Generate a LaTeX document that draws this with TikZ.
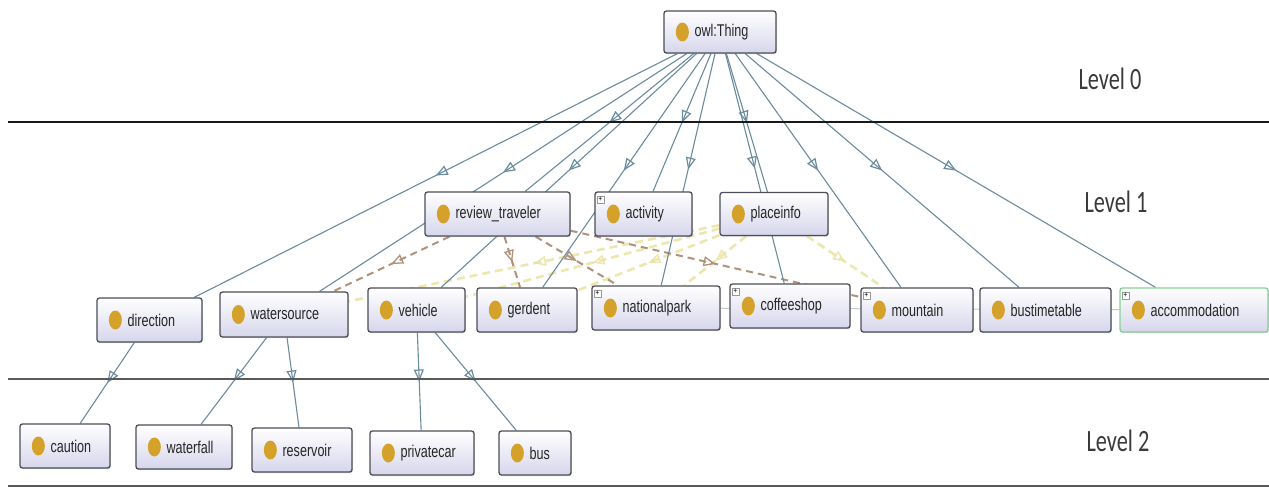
\documentclass[tikz,border=0pt]{standalone}
\usepackage{fontspec}
\newfontfamily\nodefont[FakeStretch=0.74]{Liberation Sans}
\newfontfamily\levelfont[FakeStretch=0.72]{Carlito}
\usetikzlibrary{arrows.meta,decorations.markings,shadows,backgrounds,shapes.geometric}
\definecolor{boxborder}{HTML}{4E4E58}
\definecolor{boxbottom}{HTML}{D6D6EC}
\definecolor{dotcol}{HTML}{D4A22A}
\definecolor{edgecol}{HTML}{6A8C9E}
\definecolor{browncol}{HTML}{B0917A}
\definecolor{yelcol}{HTML}{EAE3A2}
\definecolor{greenborder}{HTML}{86CF94}
\definecolor{levelcol}{HTML}{3A3A3A}
\newcommand\cls[7]{%
  \node[clsbox, minimum width=#4pt, minimum height=#5pt, #7] (#1) at (#2,#3) {};
  \node[dotn] (#1-d) at ([xshift=19pt]#1.west) {};
  \node[clstext] (#1-t) at ([xshift=31pt]#1.west) {#6};
}
\newcommand\plusmark[1]{%
  \node[plusn] (#1-p) at ([xshift=6pt,yshift=-8pt]#1.north west) {+};
}
\begin{document}
\begin{tikzpicture}[x=1pt,y=-1pt,
  clsbox/.style={draw=boxborder, line width=1.3pt, rounded corners=2.5pt,
    top color=white, bottom color=boxbottom, inner sep=0pt,
    drop shadow={shadow xshift=0.8pt, shadow yshift=-1.2pt, opacity=0.3}},
  dotn/.style={ellipse, fill=dotcol, minimum width=13pt, minimum height=19pt, inner sep=0pt},
  clstext/.style={anchor=west, inner sep=0pt, text=black!85,
    font=\nodefont\fontsize{17}{17}\selectfont},
  plusn/.style={draw=black!40, fill=white, inner sep=0.3pt, minimum size=7pt,
    font=\nodefont\fontsize{8}{8}\selectfont\bfseries, text=black!80},
  levelt/.style={text=levelcol, inner sep=0pt, font=\levelfont\fontsize{31}{31}\selectfont},
  subedge/.style={draw=edgecol, line width=1.1pt, postaction={decorate},
    decoration={markings, mark=at position 0.5 with {\arrow{Triangle[open, length=12pt, width=10pt, line width=1.2pt, color=edgecol]}}}},
  brownedge/.style={draw=browncol, line width=2pt, dash pattern=on 7pt off 5pt, postaction={decorate},
    decoration={markings, mark=at position 0.5 with {\arrow{Triangle[open, length=12pt, width=10pt, line width=1.3pt, color=browncol]}}}},
  yeledge/.style={draw=yelcol, line width=2.6pt, dash pattern=on 8pt off 5pt, opacity=0.85, postaction={decorate},
    decoration={markings, mark=at position 0.5 with {\arrow{Triangle[open, length=12pt, width=10pt, line width=1.5pt, color=yelcol]}}}},
  faintedge/.style={draw=black!22, line width=1pt},
  thinline/.style={draw=black!90, line width=1.5pt},
  thickline/.style={draw=black!65, line width=2.4pt}
]
\useasboundingbox (0,0) rectangle (1269,487);

% Level 0
\cls{thing}{720}{32}{112}{42}{owl:Thing}{}
% Level 1
\cls{review}{497.5}{214}{145}{44}{review\_traveler}{}
\cls{activity}{643.5}{214}{97}{44}{activity}{}
\cls{placeinfo}{774}{214}{108}{43}{placeinfo}{}
\cls{direction}{149.5}{320}{105}{44}{direction}{}
\cls{watersource}{284}{314.5}{128}{45}{watersource}{}
\cls{vehicle}{416.5}{310}{97}{44}{vehicle}{}
\cls{gerdent}{527}{310}{100}{44}{gerdent}{}
\cls{nationalpark}{656}{308}{128}{44}{nationalpark}{}
\cls{coffeeshop}{790}{306}{120}{44}{coffeeshop}{}
\cls{mountain}{917}{310}{112}{44}{mountain}{}
\cls{bustimetable}{1045.5}{310}{131}{44}{bustimetable}{}
\cls{accommodation}{1194}{310}{148}{44}{accommodation}{draw=greenborder}
% Level 2
\cls{caution}{65}{446}{90}{44}{caution}{}
\cls{waterfall}{184}{447}{96}{44}{waterfall}{}
\cls{reservoir}{302}{450}{100}{44}{reservoir}{}
\cls{privatecar}{422}{453}{104}{44}{privatecar}{}
\cls{bus}{535}{453}{72}{44}{bus}{}

\plusmark{activity}
\plusmark{nationalpark}
\plusmark{coffeeshop}
\plusmark{mountain}
\plusmark{accommodation}

\node[levelt] (l0) at (1110,79) {Level 0};
\node[levelt] (l1) at (1116,202) {Level 1};
\node[levelt] (l2) at (1118,441) {Level 2};

\begin{pgfonlayer}{background}
  \fill[white] (0,0) rectangle (1269,487);
  \draw[faintedge] (nationalpark) -- (accommodation);
  % yellow dashed relations
  \foreach \t in {watersource,vehicle,gerdent,nationalpark,mountain}
    \draw[yeledge] (placeinfo) -- (\t);
  % brown dashed relations
  \foreach \t in {watersource,gerdent,nationalpark,mountain}
    \draw[brownedge] (review) -- (\t);
  % subclass edges
  \foreach \t in {review,activity,placeinfo,direction,watersource,vehicle,gerdent,nationalpark,coffeeshop,mountain,bustimetable,accommodation}
    \draw[subedge] (thing) -- (\t);
  \draw[subedge] (direction) -- (caution);
  \draw[subedge] (watersource) -- (waterfall);
  \draw[subedge] (watersource) -- (reservoir);
  \draw[subedge] (vehicle) -- (privatecar);
  \draw[subedge] (vehicle) -- (bus);
  % level separators
  \draw[thinline] (8,122) -- (1269,122);
  \draw[thickline] (8,379) -- (1269,379);
  \draw[thickline] (8,486) -- (1269,486);
\end{pgfonlayer}
\end{tikzpicture}
\end{document}
